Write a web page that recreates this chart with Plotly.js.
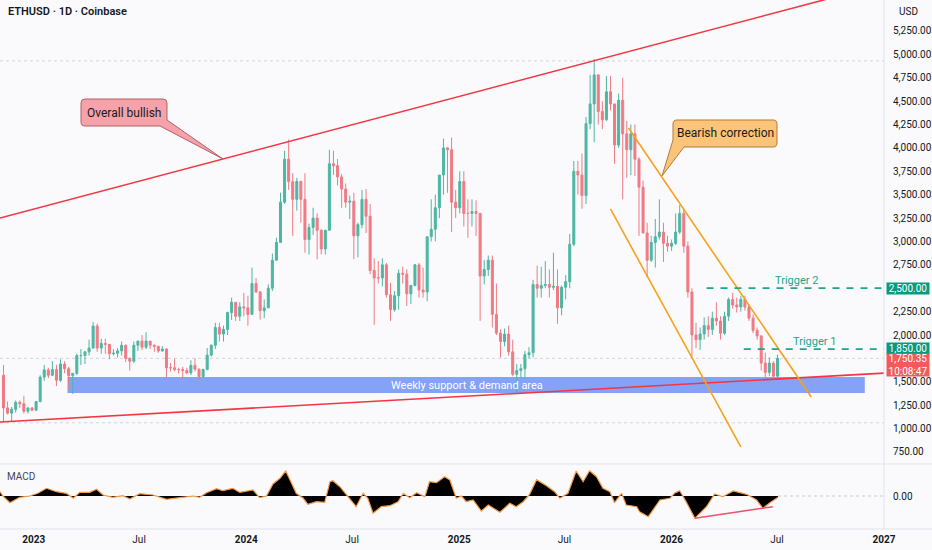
<!DOCTYPE html>
<html>
<head>
<meta charset="utf-8">
<script src="https://cdn.plot.ly/plotly-3.0.1.min.js"></script>
<style>
html,body{margin:0;padding:0;background:#fafafc;}
#chart{width:932px;height:550px;}
</style>
</head>
<body>
<div id="chart"></div>
<script>
// ---------- DATA (weekly candles) ----------
const firstWeek = '2022-11-07';
const firstOpen = 1570;
const highs = [
1680,1290,1230,1300,1300,1350,1230,1230,
1290,1570,1680,1650,1720,1680,1740,1720,1660,1590,1800,1850,1830,1950,2140,2120,1960,1960,1890,1850,1860,1930,1900,1760,1930,1940,2000,2030,1930,1900,1870,1880,1860,1700,1745,1650,1660,1650,1730,1750,1640,1640,1860,1900,2130,2130,2100,2250,2400,2350,2350,2450,
2420,2720,2610,2470,2380,2540,2870,3040,3520,3970,4090,3730,3680,3650,3730,3190,3360,3300,3130,3110,3980,3970,3880,3720,3620,3490,3520,3200,3550,3560,3400,2820,2790,2820,2770,2560,2470,2700,2730,2700,2500,2760,2770,2720,3050,3450,3500,3700,4100,4010,4110,3550,3750,
3750,3450,3450,3440,3300,2800,2850,2850,2550,2060,2070,2100,1950,1690,1690,1830,1870,2590,2740,2730,2790,2700,2880,2700,2530,2640,3080,3860,3860,3940,4330,4780,4950,4790,4500,4770,4770,4470,4580,4750,4290,4250,4250,3900,3650,3200,3060,3240,3450,3200,3060,3020,
3300,3390,3350,3000,2500,2130,2080,2190,2200,2250,2350,2200,2250,2400,2450,2400,2420,2420,2330,2220,2080,2000,1810,1760,1720,1790
];
const lows = [
1073,1150,1075,1170,1220,1160,1160,1190,
1190,1280,1510,1540,1560,1455,1500,1590,1420,1370,1570,1680,1690,1780,1860,1820,1800,1800,1740,1780,1760,1780,1710,1620,1700,1830,1840,1850,1850,1820,1810,1820,1550,1610,1610,1590,1530,1580,1570,1610,1520,1540,1630,1770,1850,1930,1930,2000,2160,2150,2150,2200,
2100,2220,2450,2165,2180,2290,2470,2790,2990,3400,3550,3060,3330,3200,2880,2860,3070,2810,2860,2860,3120,3710,3600,3360,3360,3240,2810,2830,3140,3090,2650,2110,2550,2520,2400,2150,2250,2270,2550,2310,2330,2520,2400,2400,2360,3000,3000,3250,3500,3520,3100,3250,3300,
3160,3040,3160,3060,2150,2540,2630,2080,2000,1760,1880,1780,1560,1385,1540,1540,1750,1760,2400,2400,2500,2400,2480,2120,2210,2380,2500,2950,3500,3350,3400,4200,4060,4250,4200,4290,4400,3830,4000,3450,3680,3710,3700,3060,3100,2620,2780,2720,3020,2780,2890,2900,
2960,3080,2880,2400,1765,1860,1840,1950,1980,2000,2100,1950,2000,2150,2280,2240,2250,2260,2150,2020,1950,1620,1540,1560,1540,1550
];
const closes = [
1220,1165,1205,1280,1265,1185,1220,1196,
1288,1550,1627,1570,1630,1515,1690,1640,1565,1590,1780,1780,1820,1860,2095,1860,1910,1900,1800,1805,1830,1890,1750,1720,1890,1935,1870,1935,1890,1880,1830,1850,1650,1650,1630,1630,1620,1595,1675,1635,1555,1630,1785,1890,2080,2010,2060,2240,2350,2200,2300,2290,
2220,2550,2460,2260,2290,2500,2800,2990,3420,3880,3640,3450,3640,3450,3020,3150,3250,3120,2920,3120,3830,3810,3690,3560,3420,3430,3060,3180,3450,3270,2690,2610,2610,2750,2430,2270,2420,2660,2650,2440,2530,2750,2480,2460,3050,3130,3360,3710,4000,3980,3420,3360,3640,
3300,3300,3320,3300,2630,2700,2800,2220,2020,1930,2010,1820,1580,1620,1640,1790,1810,2540,2500,2530,2540,2510,2520,2290,2510,2570,2970,3750,3710,3490,4260,4470,4780,4390,4300,4600,4470,4030,4510,4150,3980,4150,3880,3580,3090,2800,2990,3050,3100,2980,2950,2980,
3100,3300,2950,2460,2000,1950,2010,2100,2060,2180,2150,2020,2200,2380,2320,2300,2380,2300,2180,2050,1990,1700,1600,1700,1560,1750.35
];

// MACD
const macdDates = [
'2022-11-04','2022-11-09','2022-11-21','2022-12-08','2022-12-25','2023-01-08','2023-01-23','2023-02-09','2023-02-26','2023-03-10',
'2023-03-21','2023-04-07','2023-04-19','2023-04-30','2023-05-17','2023-06-03','2023-06-15','2023-07-02','2023-07-25','2023-08-17',
'2023-09-09','2023-10-02','2023-10-13','2023-10-25','2023-11-11','2023-11-22','2023-12-09','2023-12-21','2024-01-13','2024-01-24',
'2024-02-05','2024-02-16','2024-02-28','2024-03-09','2024-03-19','2024-03-27','2024-04-08','2024-04-16','2024-05-01','2024-05-15',
'2024-05-24','2024-05-29','2024-06-10','2024-06-27','2024-07-08','2024-07-20','2024-07-28','2024-08-06','2024-08-20','2024-09-04',
'2024-09-18','2024-09-27','2024-10-08','2024-10-20','2024-11-03','2024-11-11','2024-11-23','2024-12-07','2024-12-16','2024-12-27',
'2025-01-05','2025-01-13','2025-01-25','2025-02-08','2025-02-20','2025-03-12','2025-03-29','2025-04-09','2025-04-21','2025-05-02',
'2025-05-14','2025-05-31','2025-06-14','2025-06-23','2025-07-07','2025-07-21','2025-08-02','2025-08-13','2025-08-25','2025-09-05',
'2025-09-17','2025-09-25','2025-10-07','2025-10-15','2025-11-02','2025-11-07','2025-11-22','2025-12-12','2025-12-29','2026-01-06',
'2026-01-15','2026-01-26','2026-02-10','2026-03-02','2026-03-16','2026-03-30','2026-04-17','2026-05-10','2026-05-27','2026-06-07',
'2026-06-19','2026-07-03'
];
const macdValues = [
43,0,-67,-13,0,27,77,43,27,-23,
37,37,67,10,-13,3,-30,23,10,-33,
-17,0,-13,33,73,53,77,37,60,-17,
0,120,177,250,127,27,-23,-83,-57,-63,
143,153,93,-23,-107,27,-23,-173,-107,-97,
-57,27,-17,33,-7,143,133,193,160,-23,
0,-57,-40,-150,-90,-163,-73,-107,-57,17,
163,103,43,-23,27,250,143,253,193,77,
43,-67,27,-90,-107,-157,-207,-40,-23,27,
53,-57,-223,-107,20,-7,50,17,-40,-123,
-67,-13
];

// price-axis ticks and drawn levels
const priceTicks = [750,1000,1250,1500,2000,2250,2750,3000,3250,3500,3750,4000,4250,4500,4750,5000,5250];
const xTickVals = ['2023-01-01','2023-07-01','2024-01-01','2024-07-01','2025-01-01','2025-07-01','2026-01-01','2026-07-01','2027-01-01'];
const xTickText = ['<b>2023</b>','Jul','<b>2024</b>','Jul','<b>2025</b>','Jul','<b>2026</b>','Jul','<b>2027</b>'];
const trigger2 = 2500, trigger1 = 1850, lastPrice = 1750.35, lastTimer = '10:08:47';
const supportLow = 1380, supportHigh = 1551;

// ---------- BUILD ----------
function addDays(s, n){ const d = new Date(s + 'T00:00:00Z'); d.setUTCDate(d.getUTCDate() + n); return d.toISOString().slice(0,10); }
const dates = closes.map((_, i) => addDays(firstWeek, 7*i + 3));
const opens = [firstOpen].concat(closes.slice(0, -1));

const X0 = '2022-11-04', X1 = '2027-01-01';
const W = 884, H = 529;
const PX = x => x / W, PY = y => (H - y) / H;
function path(cmds){
  return cmds.map(c => {
    if (c[0] === 'Z') return 'Z';
    const out = [c[0]];
    for (let i = 1; i < c.length; i += 2) out.push(PX(c[i]).toFixed(5) + ',' + PY(c[i+1]).toFixed(5));
    return out.join(' ');
  }).join(' ');
}

const candles = {
  type: 'candlestick', x: dates, open: opens, high: highs, low: lows, close: closes,
  xaxis: 'x', yaxis: 'y',
  increasing: {line: {color: '#4db6a3', width: 1}, fillcolor: '#4db6a3'},
  decreasing: {line: {color: '#f07a84', width: 1}, fillcolor: '#f07a84'},
  whiskerwidth: 0, hoverinfo: 'skip', showlegend: false
};
const macd = {
  type: 'scatter', mode: 'lines', x: macdDates, y: macdValues, xaxis: 'x', yaxis: 'y2',
  fill: 'tozeroy', fillcolor: '#000000', line: {color: '#f29a4a', width: 1.2},
  hoverinfo: 'skip', showlegend: false
};

const red = '#f23645', orange = '#f7a21b', green = '#22a38b', grid = '#e0e3eb';
const shapes = [
  // support band
  {type:'rect', xref:'x', yref:'y', x0:'2023-02-28', x1:'2026-11-29', y0:supportLow, y1:supportHigh,
   fillcolor:'rgba(110,146,244,0.85)', line:{width:0}, layer:'below'},
  // dotted level lines
  {type:'line', xref:'paper', yref:'y', x0:0, x1:1, y0:4930, y1:4930, line:{color:'#d1d4dc', width:1, dash:'dot'}, layer:'below'},
  {type:'line', xref:'paper', yref:'y', x0:0, x1:1, y0:1062, y1:1062, line:{color:'#d1d4dc', width:1, dash:'dot'}, layer:'below'},
  {type:'line', xref:'paper', yref:'y', x0:0, x1:1, y0:lastPrice, y1:lastPrice, line:{color:'#d1d4dc', width:1, dash:'dot'}, layer:'below'},
  {type:'line', xref:'x', yref:'y2', x0:'2026-07-03', x1:X1, y0:0, y1:0, line:{color:'#c8cbd3', width:1, dash:'dot'}},
  // trend lines
  {type:'line', xref:'x', yref:'y', x0:X0, y0:3251, x1:X1, y1:5752, line:{color:red, width:1.6}},
  {type:'line', xref:'x', yref:'y', x0:X0, y0:1070, x1:X1, y1:1592, line:{color:red, width:1.6}},
  // bearish channel
  {type:'line', xref:'x', yref:'y', x0:'2025-10-19', y0:4213, x1:'2026-08-29', y1:1337, line:{color:orange, width:1.6}},
  {type:'line', xref:'x', yref:'y', x0:'2025-09-18', y0:3347, x1:'2026-04-30', y1:803, line:{color:orange, width:1.6}},
  // triggers
  {type:'line', xref:'x', yref:'y', x0:'2026-03-02', x1:X1, y0:trigger2, y1:trigger2, line:{color:green, width:1.8, dash:'7px,7px'}},
  {type:'line', xref:'x', yref:'y', x0:'2026-05-05', x1:X1, y0:trigger1, y1:trigger1, line:{color:green, width:1.8, dash:'7px,7px'}},
  // MACD divergence line
  {type:'line', xref:'x', yref:'y2', x0:'2026-02-10', y0:-223, x1:'2026-06-24', y1:-107, line:{color:'#f0506a', width:1.6}},
  // pane borders
  {type:'line', xref:'paper', yref:'paper', x0:1, x1:1, y0:0, y1:1, line:{color:grid, width:1}},
  {type:'line', xref:'paper', yref:'paper', x0:0, x1:1.06, y0:PY(464), y1:PY(464), line:{color:grid, width:1}},
  {type:'line', xref:'paper', yref:'paper', x0:0, x1:1.06, y0:0, y1:0, line:{color:grid, width:1}},
  // callouts
  {type:'path', xref:'paper', yref:'paper', fillcolor:'#f5a2aa', line:{color:'#b35f69', width:1},
   path: path([['M',85,99],['L',163,99],['Q',167,99,167,103],['L',167,120],['L',223,159],['L',160,126],['L',85,126],['Q',81,126,81,122],['L',81,103],['Q',81,99,85,99],['Z']])},
  {type:'path', xref:'paper', yref:'paper', fillcolor:'#fbc478', line:{color:'#b07d3a', width:1},
   path: path([['M',677,120],['L',773,120],['Q',777,120,777,124],['L',777,143],['Q',777,147,773,147],['L',684,147],['L',662,176],['L',673,140],['L',673,124],['Q',673,120,677,120],['Z']])}
];

const fontFam = 'Roboto, "Liberation Sans", sans-serif';
const annotations = [
  {xref:'paper', yref:'paper', x:PX(6), y:PY(12), xanchor:'left', yanchor:'middle', showarrow:false,
   text:'ETHUSD · 1D · Coinbase', font:{size:11, color:'#131722', weight:600}},
  {xref:'paper', yref:'paper', x:PX(897), y:PY(12), xanchor:'left', yanchor:'middle', showarrow:false,
   text:'USD', font:{size:10, color:'#131722'}},
  {xref:'paper', yref:'paper', x:PX(5), y:PY(476), xanchor:'left', yanchor:'middle', showarrow:false,
   text:'MACD', font:{size:10, color:'#434651'}},
  {xref:'paper', yref:'paper', x:PX(124), y:PY(112.5), xanchor:'center', yanchor:'middle', showarrow:false,
   text:'Overall bullish', font:{size:12, color:'#1a1a1a'}},
  {xref:'paper', yref:'paper', x:PX(725), y:PY(133.5), xanchor:'center', yanchor:'middle', showarrow:false,
   text:'Bearish correction', font:{size:12, color:'#1a1a1a'}},
  {xref:'x', yref:'y', x:'2025-01-14', y:(supportLow + supportHigh)/2, xanchor:'center', yanchor:'middle', showarrow:false,
   text:'Weekly support &amp; demand area', font:{size:11, color:'#ffffff'}},
  {xref:'x', yref:'y', x:'2026-08-03', y:trigger2, yshift:8, xanchor:'center', yanchor:'middle', showarrow:false,
   text:'Trigger 2', font:{size:11, color:green}},
  {xref:'x', yref:'y', x:'2026-09-03', y:trigger1, yshift:8, xanchor:'center', yanchor:'middle', showarrow:false,
   text:'Trigger 1', font:{size:11, color:green}},
  {xref:'paper', yref:'y', x:1, y:trigger2, xshift:2, xanchor:'left', yanchor:'middle', showarrow:false,
   text:'2,500.00', bgcolor:'#089981', width:42, height:11, borderpad:0, valign:'middle', align:'center', font:{size:10, color:'#ffffff'}},
  {xref:'paper', yref:'y', x:1, y:trigger1, xshift:2, yshift:1, xanchor:'left', yanchor:'middle', showarrow:false,
   text:'1,850.00', bgcolor:'#089981', width:42, height:11, borderpad:0, valign:'middle', align:'center', font:{size:10, color:'#ffffff'}},
  {xref:'paper', yref:'y', x:1, y:lastPrice, xshift:2, yshift:5, xanchor:'left', yanchor:'top', showarrow:false,
   text:'1,750.35<br>' + lastTimer, bgcolor:'#f15b5b', width:42, height:22, borderpad:0, valign:'middle', align:'center', font:{size:10, color:'#ffffff'}}
];

const layout = {
  width: 932, height: 550,
  margin: {l:0, r:48, t:0, b:21, pad:0},
  paper_bgcolor: '#fafafc', plot_bgcolor: '#fafafc',
  font: {family: fontFam, size: 10, color: '#131722'},
  showlegend: false, hovermode: false, dragmode: false,
  xaxis: {type:'date', range:[X0, X1], anchor:'y2', rangeslider:{visible:false},
          tickvals:xTickVals, ticktext:xTickText, tickangle:0, showgrid:false, zeroline:false, showline:false,
          ticks:'', ticklabelstandoff:3, tickfont:{size:10, color:'#131722'}},
  yaxis: {domain:[PY(464), 1], range:[621, 5581], side:'right', tickvals:priceTicks, tickformat:',.2f',
          showgrid:false, zeroline:false, showline:false, ticks:'', ticklabelstandoff:8, tickfont:{size:10, color:'#131722'}},
  yaxis2: {domain:[0, PY(464)], range:[-330, 320], side:'right', tickvals:[0], ticktext:['0.00'],
           showgrid:false, zeroline:false, showline:false, ticks:'', ticklabelstandoff:8, tickfont:{size:10, color:'#131722'}},
  shapes: shapes,
  annotations: annotations
};

Plotly.newPlot('chart', [candles, macd], layout, {displayModeBar:false, staticPlot:true});
</script>
</body>
</html>
